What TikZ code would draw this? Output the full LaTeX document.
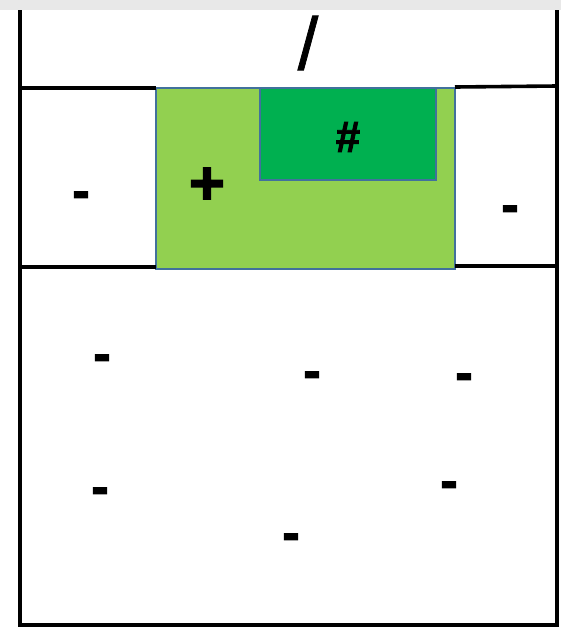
\documentclass[tikz,border=0pt]{standalone}
\usepackage{fontspec}
\setmainfont{Liberation Sans}
\newfontface\heavyfont[FakeBold=2]{Liberation Sans Bold}
\newfontface\slashfont[FakeBold=1]{Liberation Sans}
\definecolor{lightgreen}{HTML}{92D050}
\definecolor{darkgreen}{HTML}{00B050}
\definecolor{edgeblue}{HTML}{41719C}
\definecolor{topgray}{HTML}{E8E8E8}
\begin{document}
\begin{tikzpicture}[x=1pt,y=-1pt,
  frame/.style={line width=3.6pt},
  zone/.style={draw=edgeblue,line width=1.5pt},
  sign/.style={inner sep=0pt,font=\heavyfont\fontsize{52}{52}\selectfont}]
\useasboundingbox (0,0) rectangle (561,627);
\fill[white] (0,0) rectangle (561,627);
\fill[topgray] (0,0) rectangle (561,10);
% green zones
\path[zone,fill=lightgreen] (156,88) rectangle (455,269);
\path[zone,fill=darkgreen] (260,88) rectangle (436,180);
% frame
\draw[frame] (20,10) -- (20,625) -- (557,625) -- (557,10);
\draw[frame] (20,88) -- (156,88);
\draw[frame] (455,87) -- (557,86);
\draw[frame] (20,267) -- (156,267);
\draw[frame] (455,266) -- (557,266);
% signs
\node[sign,font=\slashfont\fontsize{74}{74}\selectfont] (slash) at (308,43) {/};
\node[sign,font=\heavyfont\fontsize{62}{62}\selectfont] (plus) at (207,186) {+};
\node[sign,font=\heavyfont\fontsize{44}{44}\selectfont] (hash) at (348,137) {\#};
\node[sign] (m1) at (81,200) {-};
\node[sign] (m2) at (510,214) {-};
\node[sign] (m3) at (102,363) {-};
\node[sign] (m4) at (312,380) {-};
\node[sign] (m5) at (464,382) {-};
\node[sign] (m6) at (100,496) {-};
\node[sign] (m7) at (449,490) {-};
\node[sign] (m8) at (291,542) {-};
\end{tikzpicture}
\end{document}
